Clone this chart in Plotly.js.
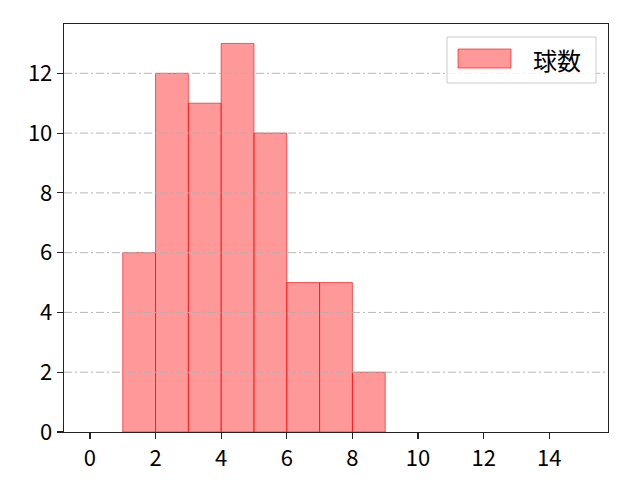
<!DOCTYPE html>
<html><head><meta charset="utf-8">
<script src="https://cdn.plot.ly/plotly-3.0.1.min.js"></script>
<style>body{margin:0;background:#fff}#c{width:640px;height:480px}</style>
</head><body><div id="c"></div>
<script>
const binStarts = [1, 2, 3, 4, 5, 6, 7, 8];
const counts = [6, 12, 11, 13, 10, 5, 5, 2];
const seriesName = "球数";
const xTicks = [0, 2, 4, 6, 8, 10, 12, 14];
const yTicks = [0, 2, 4, 6, 8, 10, 12];

const font = {family: "'Noto Sans CJK JP', 'DejaVu Sans', sans-serif", size: 22, color: "#000"};
const data = [{
  type: "bar",
  x: binStarts,
  y: counts,
  width: 1,
  offset: 0,
  name: seriesName,
  marker: {color: "rgba(255,0,0,0.4)", line: {color: "rgba(255,0,0,0.6)", width: 1}},
  showlegend: false,
  hoverinfo: "x+y"
}];
const gridShapes = yTicks.filter(v => v > 0).map(v => ({
  type: "line", xref: "paper", yref: "y", x0: 0, x1: 1, y0: v, y1: v,
  line: {color: "#b0b0b0", width: 0.9, dash: "8px,3px,2px,3px"}, layer: "above"
}));
const layout = {
  width: 640, height: 480,
  margin: {l: 64, r: 32, t: 24, b: 48},
  paper_bgcolor: "#fff", plot_bgcolor: "#fff",
  font: font,
  bargap: 0,
  xaxis: {range: [-0.79, 15.79], tickvals: xTicks, ticktext: xTicks.map(String),
    ticks: "outside", ticklen: 6, tickwidth: 1.2, tickcolor: "#222", showgrid: false, zeroline: false,
    showline: true, linecolor: "#222", linewidth: 1.3, mirror: true, tickfont: font},
  yaxis: {range: [0, 13.65], tickvals: yTicks, ticktext: yTicks.map(String),
    ticks: "outside", ticklen: 6, tickwidth: 1.2, tickcolor: "#222", showgrid: false, zeroline: false,
    showline: true, linecolor: "#222", linewidth: 1.3, mirror: true, tickfont: font},
  shapes: gridShapes.concat([
    {type: "rect", xref: "paper", yref: "paper", x0: (447-64)/544, x1: (596-64)/544,
     y0: (432-83)/408, y1: (432-37)/408, line: {color: "#cccccc", width: 1}, fillcolor: "rgba(255,255,255,0.8)", layer: "above"},
    {type: "rect", xref: "paper", yref: "paper", x0: (458-64)/544, x1: (511-64)/544,
     y0: (432-68)/408, y1: (432-49)/408, line: {color: "rgba(255,0,0,0.6)", width: 1}, fillcolor: "rgba(255,0,0,0.4)", layer: "above"}
  ]),
  annotations: [
    {xref: "paper", yref: "paper", x: (531-64)/544, y: (432-59)/408, xanchor: "left", yanchor: "middle",
     text: seriesName, showarrow: false, font: {family: font.family, size: 24, color: "#000"}}
  ]
};
Plotly.newPlot("c", data, layout, {displayModeBar: false, staticPlot: true});
</script></body></html>
